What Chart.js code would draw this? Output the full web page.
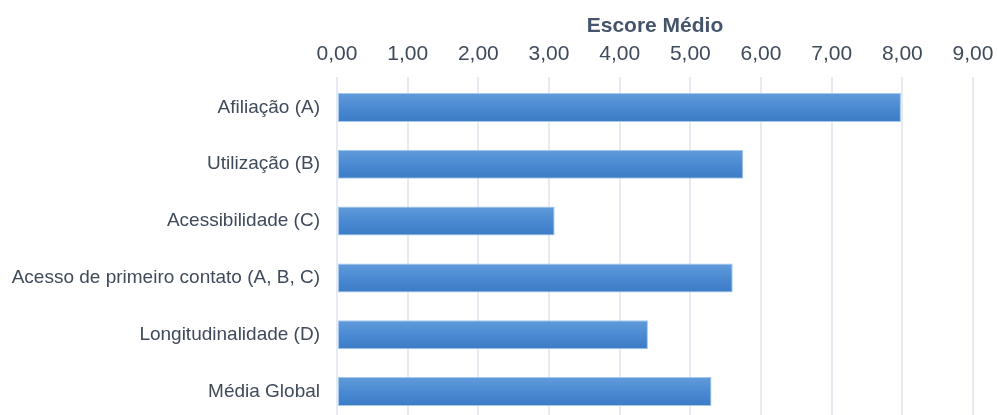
<!DOCTYPE html>
<html>
<head>
<meta charset="utf-8">
<script src="https://cdn.jsdelivr.net/npm/chart.js@4"></script>
<style>
  html, body { margin: 0; padding: 0; background: #fff; overflow: hidden; }
  #wrap { width: 998px; height: 420px; position: relative; }
</style>
</head>
<body>
<div id="wrap"><canvas id="c" width="998" height="420"></canvas></div>
<script>
const categories = [
  "Afiliação (A)",
  "Utilização (B)",
  "Acessibilidade (C)",
  "Acesso de primeiro contato (A, B, C)",
  "Longitudinalidade (D)",
  "Média Global"
];
const scores = [7.98, 5.75, 3.08, 5.60, 4.40, 5.30];
const axisTitle = "Escore Médio";
const xMin = 0, xMax = 9, xStep = 1;
const BAR_PCT = 0.51;

function barGradient(ctx) {
  const chart = ctx.chart;
  const ys = chart.scales && chart.scales.y;
  if (!chart.chartArea || !ys || ctx.dataIndex === undefined) return '#4a89d0';
  const yc = ys.getPixelForValue(ctx.dataIndex);
  const h = (chart.chartArea.bottom - chart.chartArea.top) / categories.length * BAR_PCT;
  const g = chart.ctx.createLinearGradient(0, yc - h / 2, 0, yc + h / 2);
  g.addColorStop(0, '#609bdb');
  g.addColorStop(0.5, '#4b8ad2');
  g.addColorStop(1, '#3b7bc6');
  return g;
}

new Chart(document.getElementById('c'), {
  type: 'bar',
  data: {
    labels: categories,
    datasets: [{
      data: scores,
      backgroundColor: barGradient,
      borderColor: '#a6c8ec',
      borderWidth: 1,
      borderSkipped: false,
      barPercentage: BAR_PCT,
      categoryPercentage: 1.0
    }]
  },
  options: {
    indexAxis: 'y',
    responsive: false,
    animation: false,
    layout: { padding: { left: 0, right: 25, top: 0, bottom: 0 } },
    plugins: { legend: { display: false }, tooltip: { enabled: false } },
    scales: {
      x: {
        position: 'top',
        min: xMin, max: xMax,
        ticks: {
          stepSize: xStep,
          color: '#3f4a5a',
          font: { family: 'Liberation Sans, Arial, sans-serif', size: 21 },
          padding: 10,
          callback: v => v.toFixed(2).replace('.', ',')
        },
        grid: { color: '#e5ebf1', lineWidth: 2, drawTicks: true, tickLength: 2 },
        border: { display: false },
        title: {
          display: true,
          text: axisTitle,
          color: '#44546a',
          font: { family: 'Liberation Sans, Arial, sans-serif', size: 21, weight: 'bold' },
          padding: { top: 14, bottom: 2 }
        },
        afterFit: s => { s.height = 79; s.paddingLeft = 0; s.paddingRight = 0; }
      },
      y: {
        ticks: {
          color: '#3f4a5a',
          font: { family: 'Liberation Sans, Arial, sans-serif', size: 19 },
          padding: 9
        },
        grid: { display: false },
        border: { display: false },
        afterFit: s => { s.width = 337; s.paddingTop = 0; s.paddingBottom = 0; }
      }
    }
  }
});
</script>
</body>
</html>
